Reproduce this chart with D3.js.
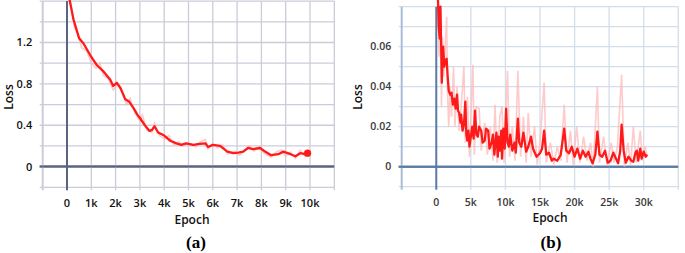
<!DOCTYPE html>
<html><head><meta charset="utf-8">
<script src="https://cdn.jsdelivr.net/npm/d3@7"></script>
<style>html,body{margin:0;padding:0;background:#fff;}svg{display:block;}</style>
</head><body>
<script>
// ---------- Panel (a) data ----------
const aTicksX = [0,1000,2000,3000,4000,5000,6000,7000,8000,9000,10000];
const aTickLabelsX = ["0","1k","2k","3k","4k","5k","6k","7k","8k","9k","10k"];
const aTicksY = [0,0.4,0.8,1.2];
const aTickLabelsY = ["0","0.4","0.8","1.2"];
const aSmoothEpoch = [100,270,500,680,1000,1230,1500,1780,1900,2050,2200,2400,2550,2750,2900,3000,3200,3400,3500,3600,3750,4000,4250,4500,4700,4900,5200,5450,5700,5800,6000,6300,6600,6850,7050,7250,7450,7650,7950,8150,8400,8700,8900,9200,9400,9600,9800,9900];
const aSmoothLoss  = [1.62,1.42,1.24,1.19,1.06,0.98,0.92,0.84,0.78,0.81,0.76,0.65,0.63,0.56,0.50,0.47,0.40,0.345,0.355,0.39,0.33,0.30,0.25,0.225,0.21,0.225,0.21,0.22,0.225,0.19,0.21,0.20,0.145,0.13,0.135,0.145,0.18,0.17,0.18,0.145,0.11,0.12,0.145,0.12,0.10,0.13,0.12,0.13];
const aRawEpoch = [100,300,450,600,800,1000,1200,1350,1500,1700,1900,2100,2300,2450,2600,2800,3000,3100,3300,3500,3600,3800,4000,4200,4400,4600,4800,5000,5300,5500,5700,5800,6000,6200,6400,6600,6900,7100,7300,7500,7700,7900,8100,8400,8600,8800,9000,9200,9400,9600,9800,9900];
const aRawLoss  = [1.65,1.35,1.28,1.15,1.12,1.00,0.95,1.00,0.88,0.85,0.74,0.80,0.70,0.60,0.66,0.52,0.44,0.50,0.35,0.33,0.42,0.30,0.27,0.30,0.21,0.24,0.20,0.23,0.19,0.24,0.26,0.17,0.22,0.18,0.21,0.12,0.15,0.11,0.16,0.20,0.15,0.19,0.13,0.09,0.14,0.16,0.10,0.14,0.08,0.16,0.10,0.13];
const aLastPoint = [9900, 0.13];

// ---------- Panel (b) data ----------
const bTicksX = [0,5000,10000,15000,20000,25000,30000];
const bTickLabelsX = ["0","5k","10k","15k","20k","25k","30k"];
const bTicksY = [0,0.02,0.04,0.06];
const bTickLabelsY = ["0","0.02","0.04","0.06"];
const bSmoothEpoch = [200,350,500,600,700,800,900,1000,1150,1300,1500,1650,1800,2000,2200,2400,2600,2800,3000,3150,3300,3500,3600,3800,4000,4200,4350,4500,4650,4800,5000,5200,5400,5600,5800,6000,6200,6500,6700,7000,7200,7500,7700,8000,8200,8400,8500,8700,8900,9000,9200,9400,9500,9700,9900,10100,10300,10500,10700,11000,11300,11500,11800,12000,12300,12600,13000,13300,13700,14000,14500,15000,15300,15600,15900,16300,16700,17000,17500,18000,18500,18800,19200,19600,20000,20400,20800,21200,21600,22000,22300,22600,23000,23300,23600,24000,24400,24800,25200,25600,26000,26300,26600,26800,27100,27400,27800,28200,28500,28800,29000,29200,29500,29700,30000,30300,30500];
const bSmoothLoss  = [0.09,0.07,0.064,0.08,0.062,0.042,0.055,0.06,0.05,0.053,0.054,0.045,0.038,0.036,0.037,0.031,0.034,0.029,0.036,0.028,0.027,0.022,0.026,0.018,0.021,0.0325,0.016,0.013,0.018,0.01,0.015,0.02,0.014,0.028,0.016,0.015,0.02,0.018,0.012,0.013,0.019,0.018,0.009,0.012,0.016,0.006,0.01,0.017,0.005,0.015,0.008,0.018,0.004,0.019,0.009,0.029,0.012,0.01,0.016,0.008,0.012,0.007,0.024,0.012,0.01,0.017,0.0075,0.01,0.015,0.009,0.005,0.0067,0.009,0.018,0.006,0.007,0.003,0.004,0.003,0.006,0.019,0.008,0.0067,0.01,0.005,0.009,0.004,0.008,0.005,0.0075,0.004,0.0017,0.006,0.0175,0.006,0.005,0.008,0.002,0.003,0.007,0.004,0.0017,0.008,0.021,0.008,0.002,0.005,0.003,0.0025,0.007,0.008,0.003,0.009,0.004,0.0075,0.005,0.006];
const bRawEpoch = [200,400,600,750,900,1100,1300,1500,1600,1800,2000,2200,2500,2700,3000,3300,3600,4000,4200,4500,4800,5000,5300,5500,5800,6200,6500,7000,7400,7800,8200,8500,8800,9200,9500,9800,10300,10600,11000,11400,11800,12200,12600,13000,13300,13700,14200,14600,15000,15600,15900,16500,17000,17500,18000,18500,18900,19400,19800,20300,20800,21300,21800,22300,22700,23300,23600,24200,24700,25300,25700,26200,26800,27200,27700,28100,28500,28900,29500,29800,30200,30500];
const bRawLoss  = [0.09,0.055,0.08,0.03,0.065,0.045,0.06,0.075,0.04,0.02,0.04,0.025,0.05,0.02,0.04,0.018,0.03,0.05,0.012,0.035,0.005,0.025,0.051,0.006,0.03,0.029,0.008,0.022,0.006,0.02,0.003,0.031,0.002,0.025,0.03,0.002,0.048,0.005,0.02,0.003,0.048,0.005,0.025,0.002,0.027,0.005,0.02,0.001,0.012,0.042,0.002,0.012,0.001,0.01,0.003,0.031,0.002,0.018,0.001,0.02,0.002,0.015,0.003,0.012,0.0,0.04,0.002,0.015,0.001,0.012,0.002,0.01,0.046,0.0,0.012,0.001,0.02,0.002,0.018,0.003,0.01,0.005];

const svg = d3.select("body").append("svg").attr("width",685).attr("height",253);

function panel(cfg){
  const g = svg.append("g");
  const x = d3.scaleLinear().domain(cfg.xDomain).range(cfg.xRange);
  const y = d3.scaleLinear().domain(cfg.yDomain).range(cfg.yRange);
  const [x0,x1] = cfg.xRange, [y0,y1] = [cfg.yRange[1], cfg.yRange[0]];
  const clipId = "clip"+cfg.id;
  svg.append("clipPath").attr("id",clipId).append("rect")
    .attr("x",x0).attr("y",0).attr("width",x1-x0).attr("height",y1);
  g.selectAll(".hg").data(cfg.gridY).join("line")
    .attr("x1",x0-3).attr("x2",x1).attr("y1",d=>y(d)).attr("y2",d=>y(d))
    .attr("stroke",d=>d===0?cfg.zeroColor:cfg.gridColor).attr("stroke-width",d=>d===0?2:1.3);
  g.selectAll(".vg").data(cfg.gridX).join("line")
    .attr("y1",y0).attr("y2",y1+3).attr("x1",d=>x(d)).attr("x2",d=>x(d))
    .attr("stroke",d=>d===0?cfg.zeroColor:(d===cfg.xDomain[0]?cfg.edgeColor:cfg.gridColor))
    .attr("stroke-width",d=>d===0||d===cfg.xDomain[0]?2:1.3);
  g.append("line").attr("x1",x0-3).attr("x2",x1).attr("y1",y(0)).attr("y2",y(0))
    .attr("stroke",cfg.zeroColor).attr("stroke-width",2);
  const line = d3.line().x(d=>x(d[0])).y(d=>y(d[1]));
  const raw = cfg.rawE.map((e,i)=>[e,cfg.rawL[i]]);
  const sm = cfg.smE.map((e,i)=>[e,cfg.smL[i]]);
  g.append("path").datum(raw).attr("d",line).attr("fill","none")
    .attr("stroke","#ffb8b8").attr("stroke-width",cfg.rawW).attr("stroke-opacity",0.75)
    .attr("clip-path",`url(#${clipId})`);
  g.append("path").datum(sm).attr("d",line).attr("fill","none")
    .attr("stroke","#ff1a1a").attr("stroke-width",cfg.smW).attr("stroke-linejoin","round")
    .attr("clip-path",`url(#${clipId})`);
  if(cfg.dot){
    g.append("circle").attr("cx",x(cfg.dot[0])).attr("cy",y(cfg.dot[1])).attr("r",3.6).attr("fill","#ff1a1a");
  }
  g.selectAll(".yl").data(cfg.ticksY).join("text")
    .attr("x",x0-10.5).attr("y",d=>y(d)).attr("dy","0.36em").attr("text-anchor","end")
    .attr("font-family",cfg.font).attr("font-size",cfg.tickSize).attr("font-weight",cfg.tickWeight)
    .attr("fill",cfg.tickColor).text((d,i)=>cfg.labelsY[i]);
  g.selectAll(".xl").data(cfg.ticksX).join("text")
    .attr("x",d=>x(d)).attr("y",cfg.xLabelY).attr("text-anchor","middle")
    .attr("font-family",cfg.font).attr("font-size",cfg.tickSize).attr("font-weight",cfg.tickWeight)
    .attr("fill",cfg.tickColor).text((d,i)=>cfg.labelsX[i]);
  g.append("text").attr("x",cfg.epochX).attr("y",cfg.epochY).attr("text-anchor","middle")
    .attr("font-family",cfg.font).attr("font-size",12).attr("font-weight",600).attr("fill","#111").text("Epoch");
  g.append("text").attr("transform",`translate(${cfg.lossX},97) rotate(-90)`).attr("text-anchor","middle")
    .attr("font-family",cfg.font).attr("font-size",12).attr("font-weight",600).attr("fill","#111").text("Loss");
  g.append("text").attr("x",cfg.capX).attr("y",248).attr("text-anchor","middle")
    .attr("font-family","'Liberation Serif','Times New Roman',serif").attr("font-size",17).attr("font-weight","bold")
    .attr("fill","#000").text(cfg.caption);
}

panel({id:"a", xDomain:[-1000,11000], xRange:[42.7,334.3], yDomain:[-0.2,1.6], yRange:[187.3,1.1],
  gridX:d3.range(-1000,11001,1000), gridY:d3.range(-2,17,2).map(v=>+(v/10).toFixed(1)),
  gridColor:"#cbccd9", zeroColor:"#5c6380", edgeColor:"#cbccd9",
  rawE:aRawEpoch, rawL:aRawLoss, smE:aSmoothEpoch, smL:aSmoothLoss, rawW:1.6, smW:2.3, dot:aLastPoint,
  ticksX:aTicksX, labelsX:aTickLabelsX, ticksY:aTicksY, labelsY:aTickLabelsY,
  font:"'Open Sans',Arial,sans-serif", tickSize:11, tickWeight:600, tickColor:"#111",
  xLabelY:207, epochX:192, epochY:224, lossX:13, capX:196, caption:"(a)"});

panel({id:"b", xDomain:[-5000,35000], xRange:[401.7,678.3], yDomain:[-0.01,0.08], yRange:[186.7,6.7],
  gridX:d3.range(-5000,35001,5000), gridY:d3.range(-1,9,1).map(v=>+(v/100).toFixed(2)),
  gridColor:"#d3deea", zeroColor:"#587aa3", edgeColor:"#a9bdd6",
  rawE:bRawEpoch, rawL:bRawLoss, smE:bSmoothEpoch, smL:bSmoothLoss, rawW:1.6, smW:2.3, dot:null,
  ticksX:bTicksX, labelsX:bTickLabelsX, ticksY:bTicksY, labelsY:bTickLabelsY,
  font:"'Open Sans',Arial,sans-serif", tickSize:10.5, tickWeight:600, tickColor:"#3a3a3a",
  xLabelY:205.5, epochX:550, epochY:222, lossX:362, capX:551, caption:"(b)"});
</script>
</body></html>
